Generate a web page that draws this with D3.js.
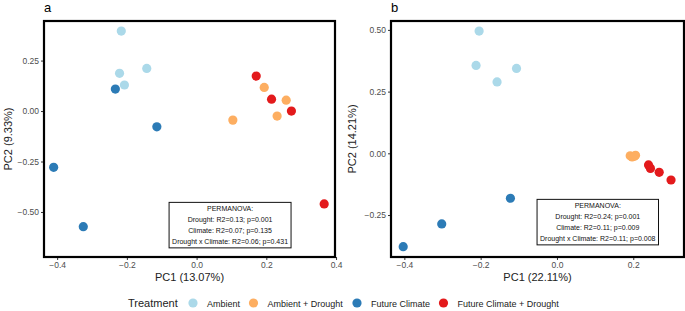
<!DOCTYPE html>
<html>
<head>
<meta charset="utf-8">
<script src="https://cdn.jsdelivr.net/npm/d3@7"></script>
<style>
  body { margin: 0; background: #fff; }
  svg { font-family: "Liberation Sans", Arial, sans-serif; }
</style>
</head>
<body>
<div id="chart"></div>
<script>
//  data
var treatments = ["Ambient", "Ambient + Drought", "Future Climate", "Future Climate + Drought"];
var colors = ["#abd9e9", "#fdae61", "#2c7bb6", "#e31a1c"];

// panel a : [pc1, pc2, treatment index]
var pointsA = [
  [-0.216, 0.396, 0], [-0.221, 0.187, 0], [-0.143, 0.211, 0], [-0.207, 0.129, 0],
  [0.194, 0.117, 1], [0.257, 0.054, 1], [0.231, -0.025, 1], [0.104, -0.045, 1],
  [-0.233, 0.109, 2], [-0.114, -0.078, 2], [-0.410, -0.279, 2], [-0.325, -0.573, 2],
  [0.171, 0.173, 3], [0.215, 0.059, 3], [0.272, 0.000, 3], [0.366, -0.460, 3]
];
// panel b
var pointsB = [
  [-0.204, 0.495, 0], [-0.212, 0.356, 0], [-0.106, 0.344, 0], [-0.157, 0.289, 0],
  [0.192, -0.010, 1], [0.197, -0.015, 1], [0.203, -0.012, 1], [0.206, -0.008, 1],
  [-0.122, -0.182, 2], [-0.302, -0.286, 2], [-0.403, -0.378, 2],
  [0.240, -0.047, 3], [0.245, -0.061, 3], [0.268, -0.077, 3], [0.299, -0.108, 3]
];

var xTicks = [-0.4, -0.2, 0.0, 0.2, 0.4];
var yTicksA = [-0.50, -0.25, 0.00, 0.25];
var yTicksB = [-0.25, 0.00, 0.25, 0.50];

var statsA = ["PERMANOVA:", "Drought: R2=0.13; p=0.001", "Climate: R2=0.07; p=0.135", "Drought x Climate: R2=0.06; p=0.431"];
var statsB = ["PERMANOVA:", "Drought: R2=0.24; p=0.001", "Climate: R2=0.11; p=0.009", "Drought x Climate: R2=0.11; p=0.008"];

const W = 685, H = 311;
const svg = d3.select("#chart").append("svg").attr("width", W).attr("height", H);

function panel(opt) {
  const x = d3.scaleLinear().domain(opt.xdom).range([opt.left, opt.right]);
  const y = d3.scaleLinear().domain(opt.ydom).range([opt.bottom, opt.top]);
  const g = svg.append("g");
  const inX = xTicks.filter(t => t >= opt.xdom[0] && t <= opt.xdom[1] + 0.005);

  g.append("rect")
    .attr("x", opt.left).attr("y", opt.top)
    .attr("width", opt.right - opt.left).attr("height", opt.bottom - opt.top)
    .attr("fill", "#fff");

  // axes
  const xa = g.append("g").attr("transform", `translate(0,${opt.bottom})`)
    .call(d3.axisBottom(x).tickValues(inX).tickSize(3).tickPadding(2));
  const ya = g.append("g").attr("transform", `translate(${opt.left},0)`)
    .call(d3.axisLeft(y).tickValues(opt.yticks).tickSize(3).tickPadding(2));
  [xa, ya].forEach(a => {
    a.select(".domain").remove();
    a.selectAll("line").attr("stroke", "#333");
    a.selectAll("text").attr("fill", "#4d4d4d").style("font-size", "8.5px");
  });
  xa.selectAll("text").text(d => d3.format(".1f")(d).replace("-", "\u2212"));
  ya.selectAll("text").text(d => d3.format(".2f")(d).replace("-", "\u2212"));

  // points
  g.append("g").selectAll("circle").data(opt.points).enter()
    .append("circle")
    .attr("cx", d => x(d[0]))
    .attr("cy", d => y(d[1]))
    .attr("r", 4.6)
    .attr("fill", d => colors[d[2]]);

  // stats box
  const bx = x(opt.boxAt[0]), by = y(opt.boxAt[1]);
  const bg = g.append("g");
  const txt = bg.selectAll("text").data(opt.stats).enter()
    .append("text")
    .attr("x", bx)
    .attr("y", (d, i) => by + i * 11)
    .attr("text-anchor", "middle")
    .style("font-size", "7px")
    .attr("fill", "#111")
    .text(d => d);
  let bw = 0;
  txt.each(function () { bw = Math.max(bw, this.getComputedTextLength()); });
  bg.insert("rect", "text")
    .attr("x", bx - bw / 2 - 3).attr("y", by - 9)
    .attr("width", bw + 6).attr("height", 45.5)
    .attr("fill", "#fff").attr("stroke", "#111").attr("stroke-width", 1);

  // frame
  g.append("rect")
    .attr("x", opt.left).attr("y", opt.top)
    .attr("width", opt.right - opt.left).attr("height", opt.bottom - opt.top)
    .attr("fill", "none").attr("stroke", "#000").attr("stroke-width", 2.2);

  // titles
  g.append("text")
    .attr("x", (opt.left + opt.right) / 2).attr("y", 281)
    .attr("text-anchor", "middle")
    .style("font-size", "11px").attr("fill", "#222")
    .text(opt.xlab);
  g.append("text")
    .attr("transform", `translate(${opt.ylabX},${(opt.top + opt.bottom) / 2}) rotate(-90)`)
    .attr("text-anchor", "middle")
    .style("font-size", "11px").attr("fill", "#222")
    .text(opt.ylab);
  g.append("text")
    .attr("x", opt.left).attr("y", 12)
    .style("font-size", "13px").attr("fill", "#000")
    .text(opt.tag);
}

panel({
  left: 44, right: 335, top: 21, bottom: 257,
  xdom: [-0.4377, 0.397], ydom: [-0.723, 0.446],
  yticks: yTicksA, points: pointsA, stats: statsA, boxAt: [0.096, -0.497],
  xlab: "PC1 (13.07%)", ylab: "PC2 (9.33%)", ylabX: 12, tag: "a"
});
panel({
  left: 391, right: 684, top: 21, bottom: 257,
  xdom: [-0.435, 0.333], ydom: [-0.420, 0.536],
  yticks: yTicksB, points: pointsB, stats: statsB, boxAt: [0.107, -0.223],
  xlab: "PC1 (22.11%)", ylab: "PC2 (14.21%)", ylabX: 356, tag: "b"
});

// legend
const leg = svg.append("g").attr("transform", "translate(0,303)");
leg.append("text").attr("x", 128).attr("y", 4).style("font-size", "11px").attr("fill", "#222").text("Treatment");
var legX = [193, 253.5, 357, 443.5];
treatments.forEach((t, i) => {
  leg.append("circle").attr("cx", legX[i]).attr("cy", 0).attr("r", 4.6).attr("fill", colors[i]);
  leg.append("text").attr("x", legX[i] + 14).attr("y", 3.5).style("font-size", "9px").attr("fill", "#222").text(t);
});
</script>
</body>
</html>
